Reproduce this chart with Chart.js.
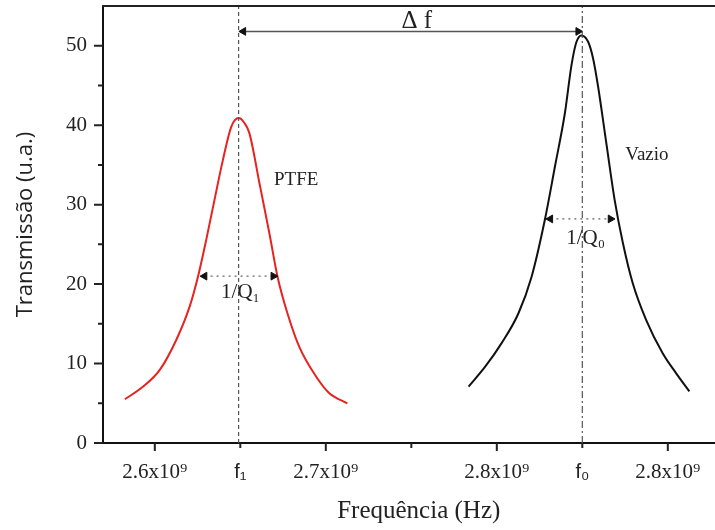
<!DOCTYPE html>
<html>
<head>
<meta charset="utf-8">
<script src="https://cdn.jsdelivr.net/npm/chart.js@4"></script>
<style>
  html, body { margin: 0; padding: 0; background: #fff; overflow: hidden; }
</style>
</head>
<body>
<canvas id="chart" width="740" height="530"></canvas>
<script>
// PTFE resonance (red) and empty cavity "Vazio" (black)
var ptfeFreq = [2.5825e9, 2.5932e9, 2.6029e9, 2.6126e9, 2.6204e9, 2.6252e9, 2.6301e9, 2.6349e9, 2.6398e9,
                2.6447e9, 2.6491e9, 2.6520e9, 2.6553e9, 2.6612e9, 2.6670e9, 2.6718e9, 2.6776e9, 2.6845e9,
                2.6942e9, 2.7019e9, 2.7126e9];
var ptfeT = [5.5, 7.1, 9.2, 13.0, 17.2, 20.9, 25.6, 30.6, 35.6, 39.8, 40.9, 40.4, 39.0, 32.7, 26.4, 20.9,
             16.3, 12.1, 8.4, 6.3, 5.0];

var vazioFreq = [2.7835e9, 2.7932e9, 2.8029e9, 2.8126e9, 2.8203e9, 2.8281e9, 2.8340e9, 2.8398e9, 2.8437e9,
                 2.8466e9, 2.8495e9, 2.8534e9, 2.8563e9, 2.8592e9, 2.8640e9, 2.8689e9, 2.8737e9, 2.8795e9,
                 2.8873e9, 2.8970e9, 2.9048e9, 2.9126e9];
var vazioT = [7.1, 9.6, 12.6, 16.3, 20.9, 28.1, 34.8, 41.5, 47.6, 50.5, 51.3, 50.5, 48.4, 44.9, 37.8, 30.6,
              25.2, 20.1, 15.5, 11.3, 8.8, 6.5];

var f1 = 2.649e9;
var f0 = 2.85e9;

// arrows: [xStart, xEnd, y]
var deltaArrow = [2.6518e9, 2.8476e9, 51.8];
var q1Arrow = [2.6291e9, 2.6693e9, 21.0];
var q0Arrow = [2.8313e9, 2.8665e9, 28.2];

var xTickValues = [2.6e9, 2.65e9, 2.7e9, 2.75e9, 2.8e9, 2.85e9, 2.9e9];
var xTickLabels = ["2.6x10\u2079", "f\u2081", "2.7x10\u2079", "", "2.8x10\u2079", "f\u2080", "2.8x10\u2079"];
var xMajor = [2.6e9, 2.7e9, 2.8e9, 2.9e9];
var xMinor = [2.65e9, 2.75e9, 2.85e9];
var yTickValues = [0, 10, 20, 30, 40, 50];
var yMinor = [5, 15, 25, 35, 45];

var noteText = ["\u0394 f", "PTFE", "Vazio", "1/Q\u2081", "1/Q\u2080"];
var noteX = [2.7532e9, 2.6827e9, 2.8878e9, 2.6501e9, 2.8519e9];
var noteY = [53.0, 33.1, 36.25, 18.9, 25.7];
var noteSize = [25, 19, 19, 21, 21];

var serif = "'Liberation Serif', 'Times New Roman', 'DejaVu Serif', serif";
var sans = "'Liberation Sans', Arial, sans-serif";

function pts(xs, ys) {
  return xs.map(function (x, i) { return { x: x, y: ys[i] }; });
}

function arrowSet(a, dash) {
  return {
    data: [{ x: a[0], y: a[2] }, { x: a[1], y: a[2] }],
    borderColor: dash ? "#666" : "#555",
    borderWidth: dash ? 1.3 : 1.5,
    borderDash: dash ? [2, 4] : [],
    pointStyle: "triangle",
    pointRotation: [-90, 90],
    pointRadius: 4.5,
    pointBackgroundColor: "#111",
    pointBorderColor: "#111",
    pointBorderWidth: 1,
    tension: 0,
  };
}

var frameAndTicks = {
  id: "frameAndTicks",
  afterDraw: function (chart) {
    var ctx = chart.ctx, x = chart.scales.x, y = chart.scales.y, area = chart.chartArea;
    ctx.save();
    ctx.strokeStyle = "#222";
    ctx.lineWidth = 2;
    ctx.beginPath();
    ctx.moveTo(area.left - 1, area.top);
    ctx.lineTo(area.right, area.top);
    xMajor.forEach(function (v) {
      var p = x.getPixelForValue(v);
      ctx.moveTo(p, area.bottom); ctx.lineTo(p, area.bottom + 8);
    });
    xMinor.forEach(function (v) {
      var p = x.getPixelForValue(v);
      ctx.moveTo(p, area.bottom); ctx.lineTo(p, area.bottom + 5);
    });
    yTickValues.forEach(function (v) {
      var p = y.getPixelForValue(v);
      ctx.moveTo(area.left, p); ctx.lineTo(area.left - 9, p);
    });
    yMinor.forEach(function (v) {
      var p = y.getPixelForValue(v);
      ctx.moveTo(area.left, p); ctx.lineTo(area.left - 5, p);
    });
    ctx.stroke();

    ctx.fillStyle = "#222";
    ctx.textAlign = "center";
    ctx.textBaseline = "middle";
    noteText.forEach(function (t, i) {
      ctx.font = noteSize[i] + "px " + serif;
      ctx.fillText(t, x.getPixelForValue(noteX[i]), y.getPixelForValue(noteY[i]));
    });
    ctx.restore();
  }
};

new Chart(document.getElementById("chart"), {
  type: "line",
  data: {
    datasets: [
      {
        data: [{ x: f1, y: 0 }, { x: f1, y: 55 }],
        borderColor: "#555", borderWidth: 1.2, borderDash: [4, 3], pointRadius: 0,
      },
      {
        data: [{ x: f0, y: 0 }, { x: f0, y: 55 }],
        borderColor: "#555", borderWidth: 1.2, borderDash: [7, 3, 2, 3], pointRadius: 0,
      },
      arrowSet(deltaArrow, false),
      arrowSet(q1Arrow, true),
      arrowSet(q0Arrow, true),
      {
        data: pts(ptfeFreq, ptfeT),
        borderColor: "#e8221f", borderWidth: 2, pointRadius: 0,
        cubicInterpolationMode: "monotone",
      },
      {
        data: pts(vazioFreq, vazioT),
        borderColor: "#111", borderWidth: 2, pointRadius: 0,
        cubicInterpolationMode: "monotone",
      },
    ],
  },
  options: {
    responsive: false,
    animation: false,
    layout: { padding: { top: 6, right: 3, left: 0, bottom: 0 } },
    plugins: { legend: { display: false }, tooltip: { enabled: false } },
    scales: {
      x: {
        type: "linear",
        min: 2.5697e9,
        max: 2.939e9,
        afterBuildTicks: function (scale) {
          scale.ticks = xTickValues.map(function (v) { return { value: v }; });
        },
        afterFit: function (scale) {
          scale.height = 87;
          scale.paddingLeft = 0; scale.paddingRight = 0;
        },
        grid: { display: false, drawTicks: false },
        border: { display: true, color: "#111", width: 2 },
        ticks: {
          autoSkip: false,
          maxRotation: 0,
          padding: 17,
          color: "#222",
          font: function (c) {
            var isF = c.index === 1 || c.index === 5;
            return { family: isF ? sans : serif, size: isF ? 20 : 21 };
          },
          callback: function (value, index) { return xTickLabels[index]; },
        },
        title: {
          display: true,
          text: "Frequência (Hz)",
          color: "#222",
          font: { family: serif, size: 25 },
          padding: { top: 0, bottom: 4 },
        },
      },
      y: {
        min: 0,
        max: 55,
        afterBuildTicks: function (scale) {
          scale.ticks = yTickValues.map(function (v) { return { value: v }; });
        },
        afterFit: function (scale) {
          scale.width = 103;
          scale.paddingTop = 0; scale.paddingBottom = 0;
        },
        grid: { display: false, drawTicks: false },
        border: { display: true, color: "#111", width: 2 },
        ticks: {
          padding: 16,
          color: "#222",
          font: { family: serif, size: 21 },
        },
        title: {
          display: true,
          text: "Transmissão (u.a.)",
          color: "#222",
          font: { family: "'Open Sans', sans-serif", size: 22 },
          padding: { top: 13, bottom: 0 },
        },
      },
    },
  },
  plugins: [frameAndTicks],
});
</script>
</body>
</html>
